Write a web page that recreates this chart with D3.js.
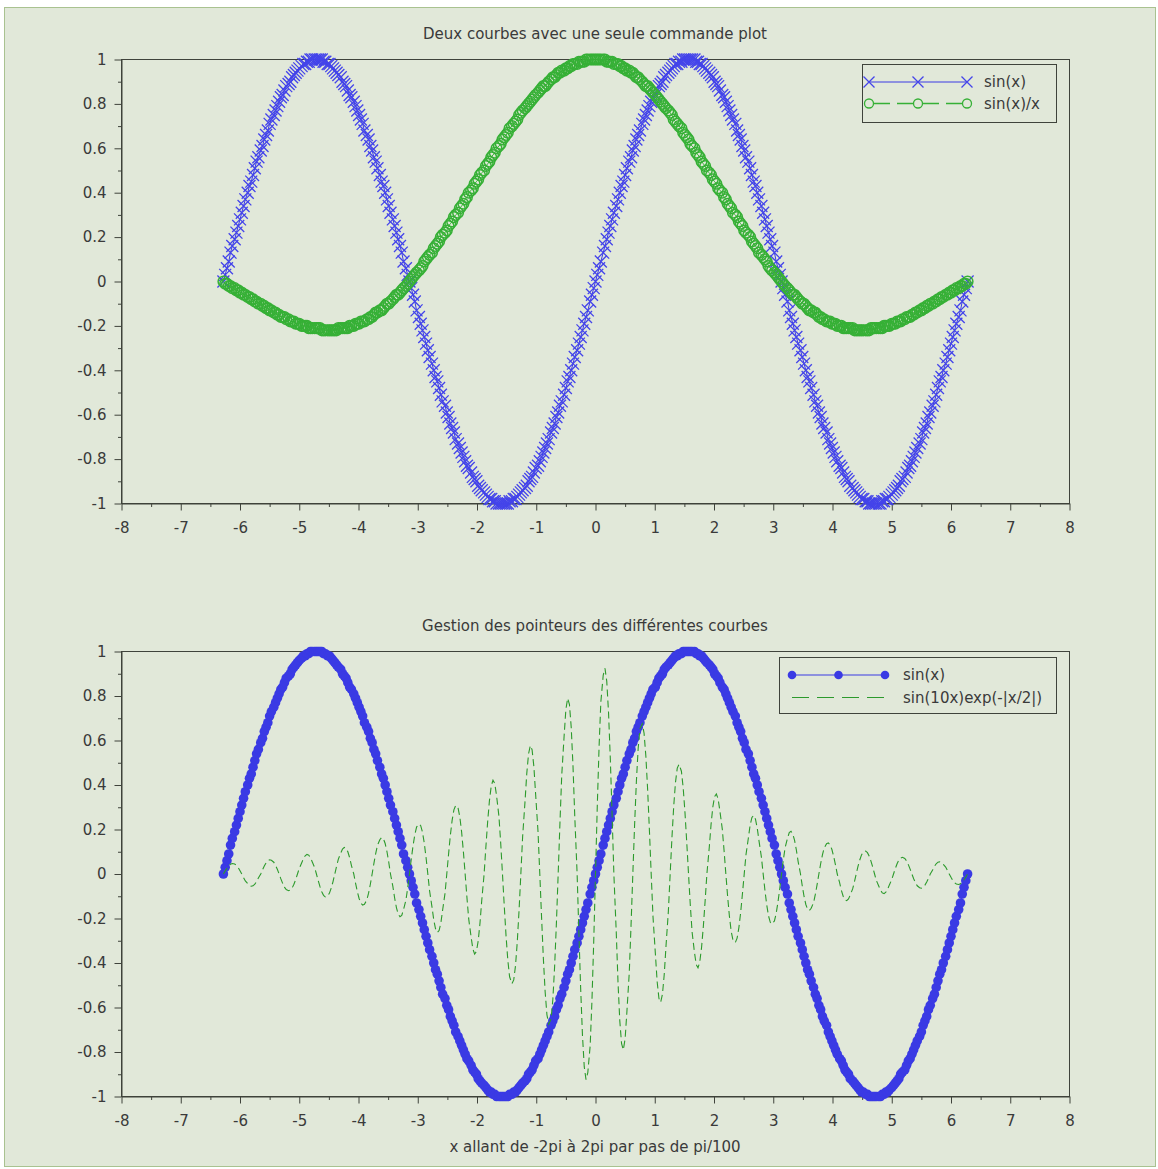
<!DOCTYPE html>
<html><head><meta charset="utf-8">
<script src="https://cdn.jsdelivr.net/npm/d3@7"></script>
<style>
body{margin:0;background:#fff}
text{font-family:"DejaVu Sans",sans-serif;fill:#3a3a3a}
</style>
</head><body>
<svg id="c" width="1158" height="1169"></svg>
<script>
// x from -2pi to 2pi, step pi/100 (401 samples)
const xValues=[
-6.28,-6.25,-6.22,-6.19,-6.16,-6.13,-6.09,-6.06,-6.03,-6.00,
-5.97,-5.94,-5.91,-5.87,-5.84,-5.81,-5.78,-5.75,-5.72,-5.69,
-5.65,-5.62,-5.59,-5.56,-5.53,-5.50,-5.47,-5.43,-5.40,-5.37,
-5.34,-5.31,-5.28,-5.25,-5.22,-5.18,-5.15,-5.12,-5.09,-5.06,
-5.03,-5.00,-4.96,-4.93,-4.90,-4.87,-4.84,-4.81,-4.78,-4.74,
-4.71,-4.68,-4.65,-4.62,-4.59,-4.56,-4.52,-4.49,-4.46,-4.43,
-4.40,-4.37,-4.34,-4.30,-4.27,-4.24,-4.21,-4.18,-4.15,-4.12,
-4.08,-4.05,-4.02,-3.99,-3.96,-3.93,-3.90,-3.86,-3.83,-3.80,
-3.77,-3.74,-3.71,-3.68,-3.64,-3.61,-3.58,-3.55,-3.52,-3.49,
-3.46,-3.42,-3.39,-3.36,-3.33,-3.30,-3.27,-3.24,-3.20,-3.17,
-3.14,-3.11,-3.08,-3.05,-3.02,-2.98,-2.95,-2.92,-2.89,-2.86,
-2.83,-2.80,-2.76,-2.73,-2.70,-2.67,-2.64,-2.61,-2.58,-2.54,
-2.51,-2.48,-2.45,-2.42,-2.39,-2.36,-2.32,-2.29,-2.26,-2.23,
-2.20,-2.17,-2.14,-2.10,-2.07,-2.04,-2.01,-1.98,-1.95,-1.92,
-1.88,-1.85,-1.82,-1.79,-1.76,-1.73,-1.70,-1.67,-1.63,-1.60,
-1.57,-1.54,-1.51,-1.48,-1.45,-1.41,-1.38,-1.35,-1.32,-1.29,
-1.26,-1.23,-1.19,-1.16,-1.13,-1.10,-1.07,-1.04,-1.01,-0.97,
-0.94,-0.91,-0.88,-0.85,-0.82,-0.79,-0.75,-0.72,-0.69,-0.66,
-0.63,-0.60,-0.57,-0.53,-0.50,-0.47,-0.44,-0.41,-0.38,-0.35,
-0.31,-0.28,-0.25,-0.22,-0.19,-0.16,-0.13,-0.09,-0.06,-0.03,
0,
0.03,0.06,0.09,0.13,0.16,0.19,0.22,0.25,0.28,0.31,
0.35,0.38,0.41,0.44,0.47,0.50,0.53,0.57,0.60,0.63,
0.66,0.69,0.72,0.75,0.79,0.82,0.85,0.88,0.91,0.94,
0.97,1.01,1.04,1.07,1.10,1.13,1.16,1.19,1.23,1.26,
1.29,1.32,1.35,1.38,1.41,1.45,1.48,1.51,1.54,1.57,
1.60,1.63,1.67,1.70,1.73,1.76,1.79,1.82,1.85,1.88,
1.92,1.95,1.98,2.01,2.04,2.07,2.10,2.14,2.17,2.20,
2.23,2.26,2.29,2.32,2.36,2.39,2.42,2.45,2.48,2.51,
2.54,2.58,2.61,2.64,2.67,2.70,2.73,2.76,2.80,2.83,
2.86,2.89,2.92,2.95,2.98,3.02,3.05,3.08,3.11,3.14,
3.17,3.20,3.24,3.27,3.30,3.33,3.36,3.39,3.42,3.46,
3.49,3.52,3.55,3.58,3.61,3.64,3.68,3.71,3.74,3.77,
3.80,3.83,3.86,3.90,3.93,3.96,3.99,4.02,4.05,4.08,
4.12,4.15,4.18,4.21,4.24,4.27,4.30,4.34,4.37,4.40,
4.43,4.46,4.49,4.52,4.56,4.59,4.62,4.65,4.68,4.71,
4.74,4.78,4.81,4.84,4.87,4.90,4.93,4.96,5.00,5.03,
5.06,5.09,5.12,5.15,5.18,5.22,5.25,5.28,5.31,5.34,
5.37,5.40,5.43,5.47,5.50,5.53,5.56,5.59,5.62,5.65,
5.69,5.72,5.75,5.78,5.81,5.84,5.87,5.91,5.94,5.97,
6.00,6.03,6.06,6.09,6.13,6.16,6.19,6.22,6.25,6.28];

// sin(x)
const sinValues=[
0,
.03,.06,.09,.13,.16,.19,.22,.25,.28,.31,
.34,.37,.40,.43,.45,.48,.51,.54,.56,.59,
.61,.64,.66,.68,.71,.73,.75,.77,.79,.81,
.83,.84,.86,.88,.89,.90,.92,.93,.94,.95,
.96,.97,.98,.98,.99,.99,1,1,1,1,
1,1,1,.99,.99,.98,.98,.97,.96,.95,
.94,.93,.92,.90,.89,.88,.86,.84,.83,.81,
.79,.77,.75,.73,.71,.68,.66,.64,.61,.59,
.56,.54,.51,.48,.45,.43,.40,.37,.34,.31,
.28,.25,.22,.19,.16,.13,.09,.06,.03,0,
-.03,-.06,-.09,-.13,-.16,-.19,-.22,-.25,-.28,-.31,
-.34,-.37,-.40,-.43,-.45,-.48,-.51,-.54,-.56,-.59,
-.61,-.64,-.66,-.68,-.71,-.73,-.75,-.77,-.79,-.81,
-.83,-.84,-.86,-.88,-.89,-.90,-.92,-.93,-.94,-.95,
-.96,-.97,-.98,-.98,-.99,-.99,-1,-1,-1,-1,
-1,-1,-1,-.99,-.99,-.98,-.98,-.97,-.96,-.95,
-.94,-.93,-.92,-.90,-.89,-.88,-.86,-.84,-.83,-.81,
-.79,-.77,-.75,-.73,-.71,-.68,-.66,-.64,-.61,-.59,
-.56,-.54,-.51,-.48,-.45,-.43,-.40,-.37,-.34,-.31,
-.28,-.25,-.22,-.19,-.16,-.13,-.09,-.06,-.03,0,
.03,.06,.09,.13,.16,.19,.22,.25,.28,.31,
.34,.37,.40,.43,.45,.48,.51,.54,.56,.59,
.61,.64,.66,.68,.71,.73,.75,.77,.79,.81,
.83,.84,.86,.88,.89,.90,.92,.93,.94,.95,
.96,.97,.98,.98,.99,.99,1,1,1,1,
1,1,1,.99,.99,.98,.98,.97,.96,.95,
.94,.93,.92,.90,.89,.88,.86,.84,.83,.81,
.79,.77,.75,.73,.71,.68,.66,.64,.61,.59,
.56,.54,.51,.48,.45,.43,.40,.37,.34,.31,
.28,.25,.22,.19,.16,.13,.09,.06,.03,0,
-.03,-.06,-.09,-.13,-.16,-.19,-.22,-.25,-.28,-.31,
-.34,-.37,-.40,-.43,-.45,-.48,-.51,-.54,-.56,-.59,
-.61,-.64,-.66,-.68,-.71,-.73,-.75,-.77,-.79,-.81,
-.83,-.84,-.86,-.88,-.89,-.90,-.92,-.93,-.94,-.95,
-.96,-.97,-.98,-.98,-.99,-.99,-1,-1,-1,-1,
-1,-1,-1,-.99,-.99,-.98,-.98,-.97,-.96,-.95,
-.94,-.93,-.92,-.90,-.89,-.88,-.86,-.84,-.83,-.81,
-.79,-.77,-.75,-.73,-.71,-.68,-.66,-.64,-.61,-.59,
-.56,-.54,-.51,-.48,-.45,-.43,-.40,-.37,-.34,-.31,
-.28,-.25,-.22,-.19,-.16,-.13,-.09,-.06,-.03,0];

// sin(x)/x
const sincValues=[
0,-.01,-.01,-.02,-.02,-.03,-.03,-.04,-.04,-.05,
-.05,-.06,-.06,-.07,-.07,-.08,-.08,-.09,-.09,-.1,
-.1,-.11,-.11,-.12,-.12,-.13,-.13,-.14,-.14,-.15,
-.15,-.16,-.16,-.16,-.17,-.17,-.18,-.18,-.18,-.19,
-.19,-.19,-.2,-.2,-.2,-.2,-.21,-.21,-.21,-.21,
-.21,-.21,-.21,-.22,-.22,-.22,-.22,-.22,-.22,-.22,
-.22,-.22,-.21,-.21,-.21,-.21,-.21,-.21,-.2,-.2,
-.2,-.19,-.19,-.19,-.18,-.18,-.18,-.17,-.17,-.16,
-.16,-.15,-.14,-.14,-.13,-.13,-.12,-.11,-.1,-.1,
-.09,-.08,-.07,-.06,-.06,-.05,-.04,-.03,-.02,-.01,
0,.01,.02,.03,.04,.05,.06,.07,.09,.1,
.11,.12,.13,.15,.16,.17,.18,.2,.21,.22,
.23,.25,.26,.27,.29,.3,.31,.33,.34,.35,
.37,.38,.4,.41,.42,.44,.45,.46,.48,.49,
.5,.52,.53,.54,.56,.57,.58,.6,.61,.62,
.64,.65,.66,.67,.69,.7,.71,.72,.73,.75,
.76,.77,.78,.79,.8,.81,.82,.83,.84,.85,
.86,.87,.88,.88,.89,.9,.91,.92,.92,.93,
.94,.94,.95,.95,.96,.96,.97,.97,.98,.98,
.98,.99,.99,.99,.99,1,1,1,1,1,
1,
1,1,1,1,1,.99,.99,.99,.99,.98,
.98,.98,.97,.97,.96,.96,.95,.95,.94,.94,
.93,.92,.92,.91,.9,.89,.88,.88,.87,.86,
.85,.84,.83,.82,.81,.8,.79,.78,.77,.76,
.75,.73,.72,.71,.7,.69,.67,.66,.65,.64,
.62,.61,.6,.58,.57,.56,.54,.53,.52,.5,
.49,.48,.46,.45,.44,.42,.41,.4,.38,.37,
.35,.34,.33,.31,.3,.29,.27,.26,.25,.23,
.22,.21,.2,.18,.17,.16,.15,.13,.12,.11,
.1,.09,.07,.06,.05,.04,.03,.02,.01,0,
-.01,-.02,-.03,-.04,-.05,-.06,-.06,-.07,-.08,-.09,
-.1,-.1,-.11,-.12,-.13,-.13,-.14,-.14,-.15,-.16,
-.16,-.17,-.17,-.18,-.18,-.18,-.19,-.19,-.19,-.2,
-.2,-.2,-.21,-.21,-.21,-.21,-.21,-.21,-.22,-.22,
-.22,-.22,-.22,-.22,-.22,-.22,-.22,-.21,-.21,-.21,
-.21,-.21,-.21,-.21,-.2,-.2,-.2,-.2,-.19,-.19,
-.19,-.18,-.18,-.18,-.17,-.17,-.16,-.16,-.16,-.15,
-.15,-.14,-.14,-.13,-.13,-.12,-.12,-.11,-.11,-.1,
-.1,-.09,-.09,-.08,-.08,-.07,-.07,-.06,-.06,-.05,
-.05,-.04,-.04,-.03,-.03,-.02,-.02,-.01,-.01,0];

// sin(10x)*exp(-|x|/2)
const dampedValues=[
0,
.014,.026,.037,.044,.047,.045,.039,.029,.015,0,
-.016,-.031,-.043,-.051,-.055,-.053,-.046,-.034,-.018,0,
.019,.036,.050,.060,.064,.062,.053,.039,.021,0,
-.022,-.042,-.059,-.070,-.075,-.072,-.063,-.046,-.025,0,
.025,.049,.069,.082,.088,.085,.073,.054,.029,0,
-.030,-.057,-.080,-.096,-.103,-.099,-.086,-.063,-.034,0,
.035,.067,.094,.112,.120,.116,.100,.074,.039,0,
-.041,-.079,-.110,-.131,-.140,-.136,-.117,-.086,-.046,0,
.048,.092,.129,.154,.164,.159,.137,.101,.054,0,
-.056,-.108,-.151,-.180,-.192,-.186,-.160,-.118,-.063,0,
.065,.126,.176,.211,.225,.217,.188,.139,.074,0,
-.076,-.148,-.206,-.246,-.263,-.254,-.220,-.162,-.087,0,
.089,.173,.241,.288,.308,.297,.257,.190,.101,0,
-.105,-.202,-.282,-.337,-.360,-.348,-.301,-.222,-.119,0,
.122,.236,.330,.395,.422,.407,.352,.260,.139,0,
-.143,-.277,-.387,-.462,-.493,-.476,-.412,-.304,-.162,0,
.167,.324,.452,.540,.577,.558,.482,.356,.190,0,
-.196,-.379,-.529,-.632,-.675,-.652,-.564,-.416,-.222,0,
.229,.443,.619,.740,.790,.763,.660,.487,.260,0,
-.268,-.518,-.725,-.866,-.924,-.893,-.772,-.570,-.304,0,
.304,.570,.772,.893,.924,.866,.725,.518,.268,
0,-.260,-.487,-.660,-.763,-.790,-.740,-.619,-.443,-.229,
0,.222,.416,.564,.652,.675,.632,.529,.379,.196,
0,-.190,-.356,-.482,-.558,-.577,-.540,-.452,-.324,-.167,
0,.162,.304,.412,.476,.493,.462,.387,.277,.143,
0,-.139,-.260,-.352,-.407,-.422,-.395,-.330,-.236,-.122,
0,.119,.222,.301,.348,.360,.337,.282,.202,.105,
0,-.101,-.190,-.257,-.297,-.308,-.288,-.241,-.173,-.089,
0,.087,.162,.220,.254,.263,.246,.206,.148,.076,
0,-.074,-.139,-.188,-.217,-.225,-.211,-.176,-.126,-.065,
0,.063,.118,.160,.186,.192,.180,.151,.108,.056,
0,-.054,-.101,-.137,-.159,-.164,-.154,-.129,-.092,-.048,
0,.046,.086,.117,.136,.140,.131,.110,.079,.041,
0,-.039,-.074,-.100,-.116,-.120,-.112,-.094,-.067,-.035,
0,.034,.063,.086,.099,.103,.096,.080,.057,.030,
0,-.029,-.054,-.073,-.085,-.088,-.082,-.069,-.049,-.025,
0,.025,.046,.063,.072,.075,.070,.059,.042,.022,
0,-.021,-.039,-.053,-.062,-.064,-.060,-.050,-.036,-.019,
0,.018,.034,.046,.053,.055,.051,.043,.031,.016,
0,-.015,-.029,-.039,-.045,-.047,-.044,-.037,-.026,-.014,
0];

const xTicks=[-8,-7,-6,-5,-4,-3,-2,-1,0,1,2,3,4,5,6,7,8];
const xMinorTicks=[-7.5,-6.5,-5.5,-4.5,-3.5,-2.5,-1.5,-0.5,0.5,1.5,2.5,3.5,4.5,5.5,6.5,7.5];
const yTicks=[-1,-0.8,-0.6,-0.4,-0.2,0,0.2,0.4,0.6,0.8,1];
const yMinorTicks=[-0.9,-0.7,-0.5,-0.3,-0.1,0.1,0.3,0.5,0.7,0.9];

const titles=["Deux courbes avec une seule commande plot","Gestion des pointeurs des différentes courbes"];
const legendTop=["sin(x)","sin(x)/x"];
const legendBottom=["sin(x)","sin(10x)exp(-|x/2|)"];
const xLabel="x allant de -2pi à 2pi par pas de pi/100";

const BG="#e1e8d9", AX="#3f433b", BLUE="#3a3ae4", XBLUE="#4444ea", GREEN="#36b036", DGREEN="#2c9a2c";
const FS="15px";
const svg=d3.select("#c");
svg.append("rect").attr("x",4.5).attr("y",7.5).attr("width",1151).attr("height",1159)
  .attr("fill",BG).attr("stroke","#a9c290");

const x=d3.scaleLinear().domain([-8,8]).range([121.5,1069.5]);
const fmt=d=>String(+d.toFixed(1));
const N=Math.min(xValues.length,sinValues.length,sincValues.length,dampedValues.length);
const idx=d3.range(N);

function makeAxes(top,bottom,title){
  const y=d3.scaleLinear().domain([-1,1]).range([bottom,top]);
  const g=svg.append("g");
  g.append("rect").attr("x",121.5).attr("y",top).attr("width",948).attr("height",bottom-top)
    .attr("fill","none").attr("stroke",AX);
  const ay=g.append("g").attr("transform","translate(121.5,0)")
    .call(d3.axisLeft(y).tickValues(yTicks).tickSize(7).tickSizeOuter(0).tickPadding(8).tickFormat(fmt));
  const ayMin=g.append("g").attr("transform","translate(121.5,0)")
    .call(d3.axisLeft(y).tickValues(yMinorTicks).tickSize(3.5).tickFormat(""));
  const ax=g.append("g").attr("transform",`translate(0,${bottom})`)
    .call(d3.axisBottom(x).tickValues(xTicks).tickSize(7).tickSizeOuter(0).tickPadding(12).tickFormat(fmt));
  const axMin=g.append("g").attr("transform",`translate(0,${bottom})`)
    .call(d3.axisBottom(x).tickValues(xMinorTicks).tickSize(3.5).tickFormat(""));
  [ay,ayMin,ax,axMin].forEach(a=>{
    a.selectAll("path.domain").attr("stroke",AX);
    a.selectAll(".tick line").attr("stroke",AX);
    a.selectAll(".tick text").attr("fill","#3a3a3a").style("font-family","DejaVu Sans").style("font-size",FS);
  });
  ayMin.select("path.domain").remove(); axMin.select("path.domain").remove();
  svg.append("text").attr("x",595).attr("y",top-21).attr("text-anchor","middle")
    .style("font-size",FS).text(title);
  return y;
}

// ---- top plot ----
const y1=makeAxes(59.5,503.5,titles[0]);
const gTop=svg.append("g");
gTop.append("path").attr("d",d3.line().x(i=>x(xValues[i])).y(i=>y1(sinValues[i]))(idx))
  .attr("fill","none").attr("stroke",BLUE).attr("stroke-width",1);
gTop.selectAll("path.xm").data(idx).join("path").attr("class","xm")
  .attr("transform",i=>`translate(${x(xValues[i])},${y1(sinValues[i])})`)
  .attr("d","M-6,-6L6,6M-6,6L6,-6").attr("stroke",XBLUE).attr("stroke-width",1.3).attr("fill","none");
gTop.append("path").attr("d",d3.line().x(i=>x(xValues[i])).y(i=>y1(sincValues[i]))(idx))
  .attr("fill","none").attr("stroke",GREEN).attr("stroke-width",1);
gTop.selectAll("circle.om").data(idx).join("circle").attr("class","om")
  .attr("cx",i=>x(xValues[i])).attr("cy",i=>y1(sincValues[i])).attr("r",5.3)
  .attr("fill","none").attr("stroke",GREEN).attr("stroke-width",1.5);

// top legend
const lt=svg.append("g");
lt.append("rect").attr("x",862.5).attr("y",64.5).attr("width",194).attr("height",58).attr("fill","none").attr("stroke",AX);
lt.append("line").attr("x1",869).attr("x2",967).attr("y1",82).attr("y2",82).attr("stroke",BLUE);
[869,918,967].forEach(cx=>lt.append("path").attr("transform",`translate(${cx},82)`)
  .attr("d","M-5.5,-5.5L5.5,5.5M-5.5,5.5L5.5,-5.5").attr("stroke",XBLUE).attr("stroke-width",1.3));
lt.append("line").attr("x1",869).attr("x2",967).attr("y1",103.5).attr("y2",103.5).attr("stroke",GREEN)
  .attr("stroke-width",1.3).attr("stroke-dasharray","21,7,42,7,21");
[869,918,967].forEach(cx=>lt.append("circle").attr("cx",cx).attr("cy",103.5).attr("r",4.5)
  .attr("fill",BG).attr("stroke",GREEN).attr("stroke-width",1.3));
lt.append("text").attr("x",984).attr("y",87).style("font-size",FS).text(legendTop[0]);
lt.append("text").attr("x",984).attr("y",108.5).style("font-size",FS).text(legendTop[1]);

// ---- bottom plot ----
const y2=makeAxes(651.5,1096.5,titles[1]);
const gBot=svg.append("g");
gBot.append("path").attr("d",d3.line().x(i=>x(xValues[i])).y(i=>y2(sinValues[i]))(idx))
  .attr("fill","none").attr("stroke",BLUE).attr("stroke-width",1);
gBot.selectAll("circle.fm").data(idx).join("circle").attr("class","fm")
  .attr("cx",i=>x(xValues[i])).attr("cy",i=>y2(sinValues[i])).attr("r",4.8).attr("fill",BLUE);
gBot.append("path").attr("d",d3.line().x(i=>x(xValues[i])).y(i=>y2(dampedValues[i]))(idx))
  .attr("fill","none").attr("stroke",DGREEN).attr("stroke-width",1.1).attr("stroke-dasharray","7,4");

// bottom legend
const lb=svg.append("g");
lb.append("rect").attr("x",779.5).attr("y",657.5).attr("width",277).attr("height",56).attr("fill","none").attr("stroke",AX);
lb.append("line").attr("x1",792).attr("x2",885).attr("y1",675).attr("y2",675).attr("stroke",BLUE).attr("stroke-width",1.2);
[792,838.5,885].forEach(cx=>lb.append("circle").attr("cx",cx).attr("cy",675).attr("r",4.3).attr("fill",BLUE));
lb.append("line").attr("x1",792).attr("x2",885).attr("y1",697.5).attr("y2",697.5).attr("stroke",DGREEN)
  .attr("stroke-width",1.2).attr("stroke-dasharray","17,8");
lb.append("text").attr("x",903).attr("y",680).style("font-size",FS).text(legendBottom[0]);
lb.append("text").attr("x",903).attr("y",702.5).style("font-size",FS).text(legendBottom[1]);

// x label
svg.append("text").attr("x",595).attr("y",1152).attr("text-anchor","middle").style("font-size",FS).text(xLabel);
</script>
</body></html>
